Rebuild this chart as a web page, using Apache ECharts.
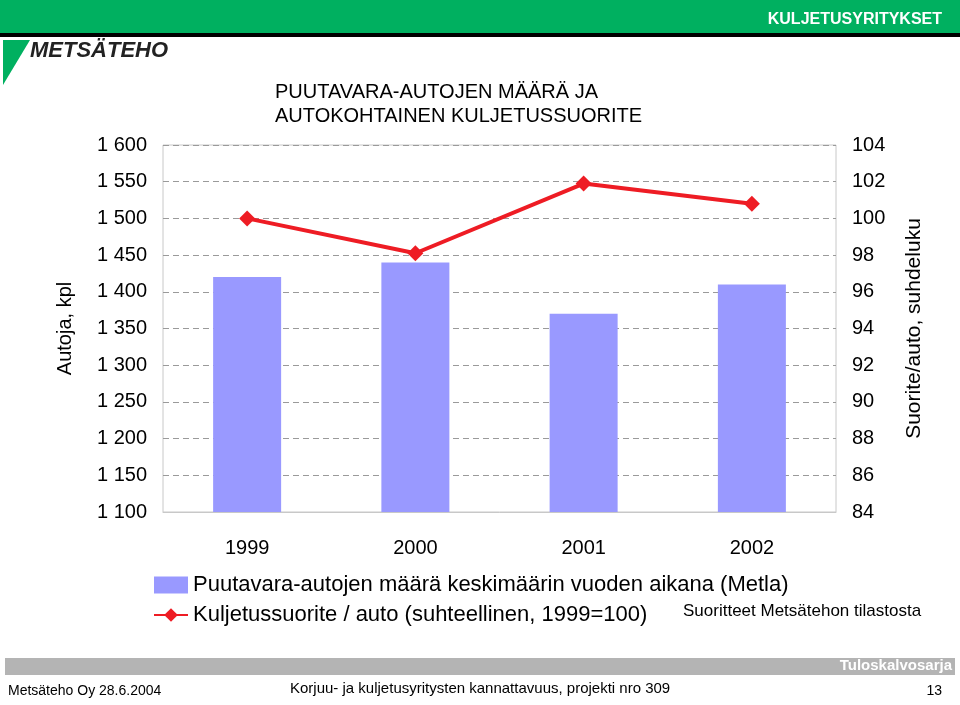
<!DOCTYPE html>
<html><head><meta charset="utf-8">
<script src="https://cdn.jsdelivr.net/npm/echarts@6/dist/echarts.min.js"></script>
<style>html,body{margin:0;padding:0;background:#fff}#c{width:960px;height:705px}</style>
</head><body><div id="c"></div>
<script>
const years = ['1999', '2000', '2001', '2002']
const autot = [1420, 1440, 1370, 1410]
const suorite = [100, 98.1, 101.9, 100.8]

const chart = echarts.init(document.getElementById('c'))
const font = 'Liberation Sans, Arial, sans-serif'

const option = {
  animation: false,
  textStyle: { fontFamily: font },
  grid: { left: 163, right: 124, top: 145, bottom: 193, show: true, borderColor: '#c8c8c8', borderWidth: 1 },
  xAxis: {
    type: 'category', data: years,
    axisLine: { lineStyle: { color: '#c8c8c8' } },
    axisTick: { show: false },
    axisLabel: { color: '#000', fontSize: 20, margin: 26 }
  },
  yAxis: [{
    type: 'value', min: 1100, max: 1600, interval: 50,
    name: 'Autoja, kpl', nameLocation: 'middle', nameGap: 88, nameRotate: 90,
    nameTextStyle: { fontSize: 20, color: '#000' },
    axisLine: { show: false }, axisTick: { show: false },
    axisLabel: { color: '#000', fontSize: 20, margin: 16,
      formatter: v => String(v).replace(/\B(?=(\d{3})+$)/g, ' ') },
    splitLine: { lineStyle: { color: '#9a9a9a', type: [6, 4] } }
  }, {
    type: 'value', min: 84, max: 104, interval: 2,
    name: 'Suorite/auto, suhdeluku', nameLocation: 'middle', nameGap: 68, nameRotate: 90,
    nameTextStyle: { fontSize: 21, color: '#000' },
    axisLine: { show: false }, axisTick: { show: false },
    axisLabel: { color: '#000', fontSize: 20, margin: 16 },
    splitLine: { show: false }
  }],
  legend: {
    orient: 'vertical', left: 148, top: 569, itemGap: 8,
    itemWidth: 34, itemHeight: 17,
    textStyle: { fontSize: 22, color: '#000', fontFamily: font },
    data: [
      { name: 'Puutavara-autojen määrä keskimäärin vuoden aikana (Metla)', icon: 'rect' },
      { name: 'Kuljetussuorite / auto (suhteellinen, 1999=100)' }
    ]
  },
  series: [{
    name: 'Puutavara-autojen määrä keskimäärin vuoden aikana (Metla)',
    type: 'bar', data: autot, barWidth: 68,
    itemStyle: { color: '#9999FF' }
  }, {
    name: 'Kuljetussuorite / auto (suhteellinen, 1999=100)',
    type: 'line', yAxisIndex: 1, data: suorite,
    symbol: 'diamond', symbolSize: 16,
    lineStyle: { color: '#EE1C24', width: 4 },
    itemStyle: { color: '#EE1C24' }
  }],
  graphic: [
    { type: 'rect', shape: { x: 0, y: 0, width: 960, height: 33 }, style: { fill: '#00B060' } },
    { type: 'rect', shape: { x: 0, y: 33, width: 960, height: 4 }, style: { fill: '#000' } },
    { type: 'text', right: 18, top: 12, style: { text: 'KULJETUSYRITYKSET', fill: '#fff', font: 'bold 16px ' + font } },
    { type: 'polygon', shape: { points: [[3, 40], [30, 40], [3, 85]] }, style: { fill: '#00B060' } },
    { type: 'text', left: 30, top: 40, style: { text: 'METSÄTEHO', fill: '#222', font: 'italic bold 22px ' + font } },
    { type: 'text', left: 275, top: 80, style: { text: 'PUUTAVARA-AUTOJEN MÄÄRÄ JA\nAUTOKOHTAINEN KULJETUSSUORITE', fill: '#000', font: '20px ' + font, lineHeight: 24 } },
    { type: 'text', left: 683, top: 603, style: { text: 'Suoritteet Metsätehon tilastosta', fill: '#000', font: '17px ' + font } },
    { type: 'rect', shape: { x: 5, y: 658, width: 950, height: 17 }, style: { fill: '#b4b4b4' } },
    { type: 'text', right: 8, top: 658, style: { text: 'Tuloskalvosarja', fill: '#fff', font: 'bold 15px ' + font } },
    { type: 'text', left: 8, top: 684, style: { text: 'Metsäteho Oy 28.6.2004', fill: '#000', font: '14px ' + font } },
    { type: 'text', left: 290, top: 681, style: { text: 'Korjuu- ja kuljetusyritysten kannattavuus, projekti nro 309', fill: '#000', font: '15px ' + font } },
    { type: 'text', right: 18, top: 684, style: { text: '13', fill: '#000', font: '14px ' + font } }
  ]
}
chart.setOption(option)
</script></body></html>
